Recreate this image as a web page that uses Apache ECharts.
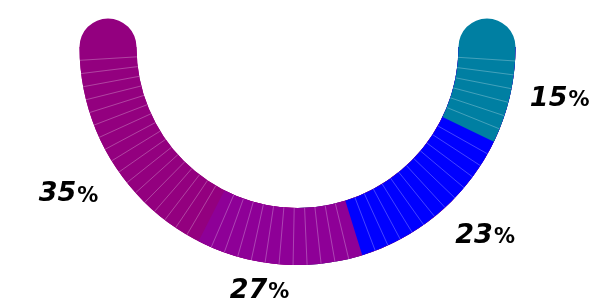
<!DOCTYPE html>
<html>
<head>
<meta charset="utf-8">
<script src="https://cdn.jsdelivr.net/npm/echarts@6/dist/echarts.min.js"></script>
<style>
  html, body { margin: 0; padding: 0; background: #fff; }
  #main { width: 594px; height: 304px; }
</style>
</head>
<body>
<div id="main"></div>
<script>
// 标签文字（图上写的百分比）
var labels = ['35', '27', '23', '15'];
// 环上各段实际所占比例（按图量出来的）
var shares = [35, 24.6, 26.1, 14.3];
var colors = ['#93007F', '#8E0097', '#0000FF', '#007FA2'];
// 标签微调
var nudges = [[3, 5], [-15, -27], [10, -17], [-3, -9]];

var myChart = echarts.init(document.getElementById('main'));

var cx = 297.5, cy = 47, R = 218, W = 57;
var SLICES = 50; // 整个半环大约分成 50 小格

var total = shares.reduce(function (a, b) { return a + b; }, 0);

function ring(z, start, end, color, roundCap) {
    return {
        type: 'gauge', z: z, silent: true,
        center: [cx, cy], radius: R,
        startAngle: start, endAngle: end,
        axisLine: { show: true, roundCap: !!roundCap, lineStyle: { width: W, color: color } },
        splitLine: { show: false },
        axisTick: { show: false },
        axisLabel: { show: false },
        pointer: { show: false },
        anchor: { show: false },
        title: { show: false },
        detail: { show: false },
        data: [{ value: 0 }]
    };
}

var series = [];
// 两头的圆角（放最底下）
series.push(ring(1, 0, -180, [[0.5, colors[colors.length - 1]], [1, colors[0]]], true));

// 一层层盖上去，避免拼缝
var before = 0;
for (var i = 0; i < shares.length; i++) {
    var left = (total - before) / total;
    series.push(ring(2 + i, 0, -180 * left, [[1, colors[i]]]));
    before += shares[i];
}

// 每段里的细白线，各自等分，不压在分界上
before = 0;
for (var j = 0; j < shares.length; j++) {
    var a0 = -180 * (total - before) / total;            // 这段左边界
    var a1 = -180 * (total - before - shares[j]) / total; // 这段右边界
    var n = Math.max(2, Math.round(shares[j] / total * SLICES));
    var step = (a1 - a0) / n;
    var lines = ring(10, a1 - step, a0 + step, [[1, 'transparent']]);
    lines.axisLine.show = false;
    lines.splitNumber = n - 2;
    lines.splitLine = { show: true, distance: -W, length: W, lineStyle: { color: 'rgba(255,255,255,0.45)', width: 0.6 } };
    series.push(lines);
    before += shares[j];
}

var pieData = labels.map(function (l, i) {
    return { name: l, value: shares[i], itemStyle: { color: 'rgba(0,0,0,0)' } };
});
pieData.push({ name: 'rest', value: total, itemStyle: { color: 'rgba(0,0,0,0)' }, label: { show: false } });

// 标签
series.push({
    type: 'pie', z: 11,
    silent: true,
    center: [cx, cy],
    radius: [256, 282],
    startAngle: 180,
    clockwise: false,
    data: pieData,
    labelLine: { show: false },
    emphasis: { disabled: true },
    label: {
        show: true,
        position: 'inside',
        formatter: function (p) { return '{n|' + p.name + '}{p|%}'; },
        rich: {
            n: { fontFamily: 'DejaVu Sans', fontSize: 27, fontWeight: 'bold', fontStyle: 'italic', color: '#000' },
            p: { fontFamily: 'DejaVu Sans', fontSize: 21, fontWeight: 'bold', color: '#000', padding: [4, 0, 0, 1] }
        }
    },
    labelLayout: function (params) {
        var d = nudges[params.dataIndex];
        if (d) {
            return { dx: d[0], dy: d[1] };
        }
    }
});

var option = {
    animation: false,
    series: series
};

myChart.setOption(option);
</script>
</body>
</html>
